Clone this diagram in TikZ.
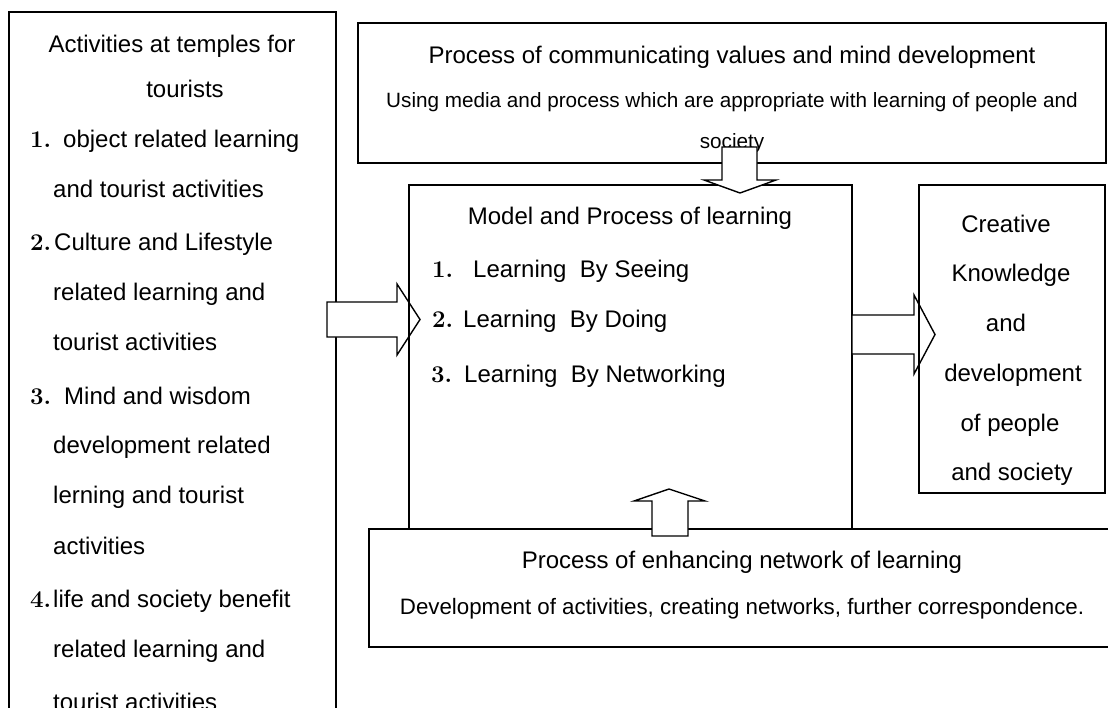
\documentclass[tikz,border=0pt]{standalone}
\usepackage{fontspec}
\setsansfont{Liberation Sans}

\begin{document}
\begin{tikzpicture}[x=1pt,y=-1pt,
  frame/.style={draw, line width=1.4pt, inner sep=0pt, outer sep=0pt, anchor=north west},
  blockarrow/.style={draw, fill=white, line width=1.4pt, line join=miter},
  txt/.style={font=\fontsize{24}{28}\selectfont\sffamily, inner sep=0pt, anchor=base west},
  ctxt/.style={txt, anchor=base},
  num/.style={font=\fontsize{24}{28}\selectfont\rmfamily\bfseries, inner sep=0pt, anchor=base west},
  subtxt/.style={font=\fontsize{20.7}{24}\selectfont\sffamily, inner sep=0pt, anchor=base},
  botsubtxt/.style={font=\fontsize{22.3}{26}\selectfont\sffamily, inner sep=0pt, anchor=base}]

\useasboundingbox (0,0) rectangle (1108,707);
\clip (0,0) rectangle (1108,707);
\fill[white] (0,0) rectangle (1108,707);

% left column: temple activities
\node[frame, minimum width=327pt, minimum height=720pt] (left) at (9,12) {};
\node[ctxt] (lh1) at (172,52) {Activities at temples for};
\node[ctxt] (lh2) at (185,97) {tourists};
\node[num] (n1) at (30,147) {1.};
\node[txt] (a1) at (63,147) {object related learning};
\node[txt] (a2) at (53,197) {and tourist activities};
\node[num] (n2) at (30,250) {2.};
\node[txt] (b1) at (54,250) {Culture and Lifestyle};
\node[txt] (b2) at (53,300) {related learning and};
\node[txt] (b3) at (53,350) {tourist activities};
\node[num] (n3) at (30,404) {3.};
\node[txt] (c1) at (64,404) {Mind and wisdom};
\node[txt] (c2) at (53,453) {development related};
\node[txt] (c3) at (53,503) {lerning and tourist};
\node[txt] (c4) at (53,554) {activities};
\node[num] (n4) at (30,607) {4.};
\node[txt] (d1) at (53,607) {life and society benefit};
\node[txt] (d2) at (53,657) {related learning and};
\node[txt] (d3) at (53,710) {tourist activities};

% top box: communicating values
\node[frame, minimum width=748pt, minimum height=140pt] (top) at (358,23) {};
\node[ctxt] (toptitle) at (732,63) {Process of communicating values and mind development};
\node[subtxt] (topsub1) at (732,107) {Using media and process which are appropriate with learning of people and};
\node[subtxt] (topsub2) at (732,148) {society};

% arrow into the learning model
\draw[blockarrow] (327,302) -- (397,302) -- (397,284) -- (420,319.5) -- (397,355) -- (397,337) -- (327,337) -- cycle;

% central box: model and process of learning
\node[frame, minimum width=443pt, minimum height=360pt] (mid) at (409,185) {};
\node[ctxt] (midtitle) at (630,224) {Model and Process of learning};
\node[num] (m1) at (432,277) {1.};
\node[txt] (m1t) at (473,277) {Learning\ \ By Seeing};
\node[num] (m2) at (432,327) {2.};
\node[txt] (m2t) at (463,327) {Learning\ \ By Doing};
\node[num] (m3) at (431,382) {3.};
\node[txt] (m3t) at (464,382) {Learning\ \ By Networking};

% arrow from the top box down into the model
\draw[blockarrow] (722,147) -- (757,147) -- (757,180) -- (776,180) -- (740,193) -- (704,180) -- (722,180) -- cycle;

% arrow from the model to the outcome
\draw[blockarrow] (852,315) -- (914,315) -- (914,295) -- (935,334.5) -- (914,374) -- (914,354) -- (852,354) -- cycle;

% outcome box
\node[frame, minimum width=186pt, minimum height=308pt] (right) at (919,185) {};
\node[ctxt] (r1) at (1006,232) {Creative};
\node[ctxt] (r2) at (1011,281) {Knowledge};
\node[ctxt] (r3) at (1006,331) {and};
\node[ctxt] (r4) at (1013,381) {development};
\node[ctxt] (r5) at (1010,431) {of people};
\node[ctxt] (r6) at (1012,480) {and society};

% bottom box: network of learning
\node[frame, fill=white, minimum width=760pt, minimum height=118pt] (bottom) at (369,529) {};
\node[ctxt] (bottitle) at (742,568) {Process of enhancing network of learning};
\node[botsubtxt] (botsub) at (742,614) {Development of activities, creating networks, further correspondence.};

% arrow from the bottom box up into the model
\draw[blockarrow] (652,536) -- (652,501) -- (634,501) -- (669,489) -- (705,501) -- (688,501) -- (688,536) -- cycle;
\end{tikzpicture}
\end{document}
